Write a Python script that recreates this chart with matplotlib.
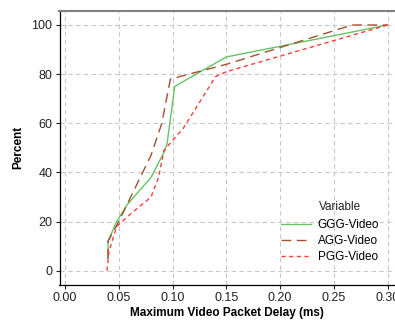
import matplotlib
matplotlib.use("Agg")
import matplotlib.pyplot as plt

plt.rcParams["font.family"] = ["Liberation Sans", "DejaVu Sans"]

# delay (ms) vs cumulative percent
ggg_x = [0.040, 0.040, 0.048, 0.058, 0.080, 0.093, 0.095, 0.102, 0.150, 0.300]
ggg_y = [5, 12, 20, 27, 38, 49, 52, 75, 87, 100]

agg_x = [0.040, 0.040, 0.050, 0.060, 0.080, 0.090, 0.098, 0.150, 0.267, 0.300]
agg_y = [5, 12, 20, 29, 47, 60, 78, 84, 100, 100]

pgg_x = [0.039, 0.041, 0.048, 0.058, 0.080, 0.087, 0.092, 0.100, 0.110, 0.140, 0.150, 0.300]
pgg_y = [0, 8, 18, 22, 30, 38, 49, 53, 58, 79, 81, 100]

series = [
    ("GGG-Video", ggg_x, ggg_y, "#66c466", "-"),
    ("AGG-Video", agg_x, agg_y, "#a0522d", (0, (7, 4))),
    ("PGG-Video", pgg_x, pgg_y, "#ff3b3b", (0, (3, 2.5))),
]

xticks = [0.00, 0.05, 0.10, 0.15, 0.20, 0.25, 0.30]
yticks = [0, 20, 40, 60, 80, 100]

fig = plt.figure(figsize=(3.95, 3.2), dpi=100)
ax = fig.add_axes([59.5 / 395, 1 - 285 / 320, 1 - 59.5 / 395, (285 - 10.5) / 320])

for label, xs, ys, color, ls in series:
    ax.plot(xs, ys, color=color, linestyle=ls, linewidth=1.0, label=label)

ax.set_xlim(-0.0051, 0.3068)
ax.set_ylim(-5.8, 105.9)
ax.set_xticks(xticks)
ax.set_xticklabels([f"{v:.2f}" for v in xticks])
ax.set_yticks(yticks)
ax.tick_params(direction="out", length=3, width=0.8, labelsize=9, colors="#222222", pad=2)
ax.grid(True, color="#c8c8c8", linestyle=(0, (4, 3)), linewidth=0.8)
ax.set_axisbelow(True)

ax.spines["right"].set_visible(False)
ax.spines["top"].set_color("#808080")
ax.spines["top"].set_linewidth(1.5)
ax.spines["left"].set_linewidth(0.9)
ax.spines["bottom"].set_linewidth(0.9)

ax.set_xlabel("Maximum Video Packet Delay (ms)", fontsize=8.5, fontweight="bold", labelpad=2)
ax.set_ylabel("Percent", fontsize=8.5, fontweight="bold", labelpad=5)

# legend title sits over the label column, not over the handles
leg = ax.legend(loc="upper left", bbox_to_anchor=(0.645, 0.258),
                frameon=False, fontsize=8.5,
                handlelength=2.6, handletextpad=0.55, labelspacing=0.35,
                borderaxespad=0)
ax.text(0.7735, 0.285, "Variable", transform=ax.transAxes, fontsize=8.5,
        ha="left", va="center", color="#222222")

fig.savefig("out.png", dpi=100)
